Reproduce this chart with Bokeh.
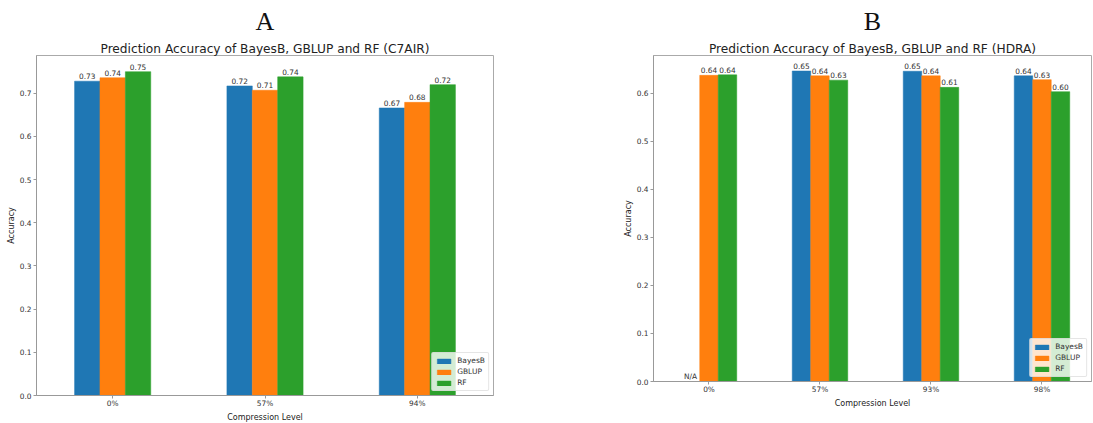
from bokeh.plotting import figure
from bokeh.models import (Range1d, FixedTicker, Title, Legend, LegendItem,
                          ColumnDataSource, PrintfTickFormatter)
from bokeh.layouts import row, column
from bokeh.embed import file_html
from bokeh.resources import INLINE
from bokeh.core.properties import value

# ---------------- data ----------------
methods = ["BayesB", "GBLUP", "RF"]
colors = ["#1f77b4", "#ff7f0e", "#2ca02c"]

levels_a = ["0%", "57%", "94%"]
bayesb_a = [0.728, 0.717, 0.666]
gblup_a = [0.736, 0.707, 0.679]
rf_a = [0.750, 0.738, 0.720]

levels_b = ["0%", "57%", "93%", "98%"]
bayesb_b = [None, 0.646, 0.6455, 0.636]
gblup_b = [0.637, 0.636, 0.636, 0.628]
rf_b = [0.638, 0.627, 0.612, 0.603]

panel_a = "A"
panel_b = "B"
title_a = "Prediction Accuracy of BayesB, GBLUP and RF (C7AIR)"
title_b = "Prediction Accuracy of BayesB, GBLUP and RF (HDRA)"
x_label = "Compression Level"
y_label = "Accuracy"
na_text = "N/A"

yticks_a = [0.0, 0.1, 0.2, 0.3, 0.4, 0.5, 0.6, 0.7]
yticks_b = [0.0, 0.1, 0.2, 0.3, 0.4, 0.5, 0.6]

BAR_W = 0.5 / 3
FONT = "DejaVu Sans"
TXT = "#333333"
SMALL = "7.4px"


def make_panel(letter, title, levels, series, yticks, width, height, borders,
               x_end, title_offset=0, letter_offset=0):
    vals = [v for s in series for v in s if v is not None]
    ymax = max(vals) * 1.05
    p = figure(width=width, height=height,
               x_range=Range1d(-0.5, x_end), y_range=Range1d(0, ymax),
               output_backend="svg", toolbar_location=None,
               min_border_left=borders[0], min_border_right=borders[1],
               min_border_top=borders[2], min_border_bottom=borders[3])
    p.background_fill_color = "white"
    p.border_fill_color = "white"
    p.outline_line_color = "#aaaaaa"
    p.xgrid.visible = False
    p.ygrid.visible = False

    # outermost: panel letter
    p.title.text = letter
    p.title.text_font = "Liberation Serif"
    p.title.text_font_size = "26px"
    p.title.text_font_style = "normal"
    p.title.text_color = "#111111"
    p.title.align = "center"
    p.title.offset = letter_offset
    p.title.standoff = 8
    # inner: chart title
    p.add_layout(Title(text=title, text_font=FONT, text_font_size="12.2px",
                       text_font_style="normal", text_color="#222222",
                       align="center", offset=title_offset, standoff=0),
                 "above")

    n = len(levels)
    items = []
    for k, (m, c, s) in enumerate(zip(methods, colors, series)):
        off = (k - 1) * BAR_W
        xs = [i + off for i in range(n) if s[i] is not None]
        ys = [v for v in s if v is not None]
        src = ColumnDataSource(dict(x=xs, top=ys,
                                    lab=["%.2f" % v for v in ys]))
        r = p.vbar(x="x", top="top", width=BAR_W, source=src,
                   fill_color=c, line_color=c, line_width=0.5)
        p.text(x="x", y="top", text="lab", source=src,
               text_align="center", text_baseline="bottom", y_offset=-2,
               text_font=value(FONT), text_font_size=value(SMALL),
               text_color=TXT)
        missing = [i + off for i in range(n) if s[i] is None]
        if missing:
            p.text(x=missing, y=[0] * len(missing),
                   text=[na_text] * len(missing),
                   text_align="center", text_baseline="bottom", y_offset=-1,
                   text_font=value(FONT), text_font_size=value(SMALL),
                   text_color=TXT)
        items.append(LegendItem(label=m, renderers=[r]))

    leg = Legend(items=items, location="bottom_right",
                 label_text_font=FONT, label_text_font_size="7.5px",
                 label_text_color=TXT, label_height=9, glyph_height=6,
                 glyph_width=17, spacing=2, padding=3, margin=4,
                 label_standoff=5, border_line_color="#cccccc",
                 background_fill_alpha=0.8, border_radius=2)
    p.add_layout(leg)

    p.xaxis.ticker = FixedTicker(ticks=list(range(n)))
    p.xaxis.major_label_overrides = {i: lv for i, lv in enumerate(levels)}
    p.yaxis.ticker = FixedTicker(ticks=yticks)
    p.yaxis.formatter = PrintfTickFormatter(format="%.1f")
    p.yaxis.axis_label = y_label
    for ax in (p.xaxis[0], p.yaxis[0]):
        ax.axis_line_color = "#999999"
        ax.major_tick_line_color = "#999999"
        ax.major_tick_out = 3
        ax.major_tick_in = 0
        ax.minor_tick_line_color = None
        ax.major_label_text_font = FONT
        ax.major_label_text_font_size = SMALL
        ax.major_label_text_color = TXT
        ax.major_label_standoff = 2
        ax.axis_label_text_font = FONT
        ax.axis_label_text_font_size = "8px"
        ax.axis_label_text_font_style = "normal"
        ax.axis_label_text_color = "#222222"
        ax.axis_label_standoff = 1
    p.xaxis[0].major_label_standoff = 0
    # x-axis label as a title below the axis
    p.add_layout(Title(text=x_label, text_font=FONT, text_font_size="8px",
                       text_font_style="normal", text_color="#222222",
                       align="center", standoff=0), "below")
    return p


pa = make_panel(panel_a, title_a, levels_a, [bayesb_a, gblup_a, rf_a],
                yticks_a, 598, 423, (36, 105, 55, 28), 2.5,
                title_offset=0, letter_offset=-6)
pb = make_panel(panel_b, title_b, levels_b, [bayesb_b, gblup_b, rf_b],
                yticks_b, 495, 423, (55, 2, 54, 42), 3.446,
                title_offset=2, letter_offset=-4)

layout = row(column(pa), column(pb))
open("out.html", "w").write(file_html(layout, INLINE))
